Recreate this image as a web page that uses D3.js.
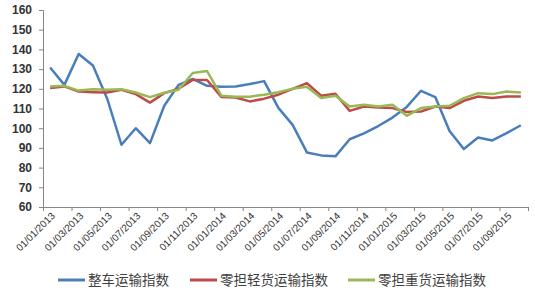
<!DOCTYPE html>
<html>
<head>
<meta charset="utf-8">
<script src="https://cdn.jsdelivr.net/npm/d3@7"></script>
<style>
  html, body { margin: 0; padding: 0; background: #fff; }
  svg { display: block; }
</style>
</head>
<body>
<svg id="chart" width="535" height="296"></svg>
<script>
const categories = [
  "01/01/2013","01/02/2013","01/03/2013","01/04/2013","01/05/2013","01/06/2013",
  "01/07/2013","01/08/2013","01/09/2013","01/10/2013","01/11/2013","01/12/2013",
  "01/01/2014","01/02/2014","01/03/2014","01/04/2014","01/05/2014","01/06/2014",
  "01/07/2014","01/08/2014","01/09/2014","01/10/2014","01/11/2014","01/12/2014",
  "01/01/2015","01/02/2015","01/03/2015","01/04/2015","01/05/2015","01/06/2015",
  "01/07/2015","01/08/2015","01/09/2015","01/10/2015"
];
const seriesNames = ["整车运输指数", "零担轻货运输指数", "零担重货运输指数"];
const seriesColors = ["#4A7EBB", "#BE4B48", "#98B954"];
const wholeTruck = [130.8,122,137.7,131.8,115,91.6,100,92.4,111.4,122,125,121.5,
  121,121.2,122.4,123.9,110.3,101.7,87.7,86.2,85.7,94.4,97.4,101.1,
  105.4,110.8,119,115.8,98.6,89.4,95.3,93.8,97.5,101.5];
const lightLTL = [120.4,121.2,118.6,118.3,118.1,119.5,117.3,113,117.8,120,124.5,124.5,
  115.8,115.6,113.6,115,117,120,122.9,116.5,117.5,108.8,111,110.5,
  110.2,108.2,108.5,111,110.2,113.9,116.1,115.3,116.1,116.1];
const heavyLTL = [121.2,121.5,119.1,119.8,119.5,119.8,118.1,115.8,118,119.5,128,129,
  116.5,116,116,117,118.3,120,121,115.3,116.5,111,111.9,111,
  111.9,106.3,110.2,111,111.4,115.3,117.8,117.3,118.6,118.1];
const yTicks = [60,70,80,90,100,110,120,130,140,150,160];
const xTickLabels = categories.filter((d, i) => i % 2 === 0);

const allSeries = [wholeTruck, lightLTL, heavyLTL];

const svg = d3.select("#chart");
const plotLeft = 43, plotRight = 528, plotTop = 10, plotBottom = 207;

const x = d3.scaleLinear().domain([0, categories.length]).range([plotLeft, plotRight]);
const y = d3.scaleLinear().domain([60, 160]).range([plotBottom, plotTop]);

// Y axis
const yAxis = svg.append("g")
  .attr("transform", `translate(${plotLeft},0)`)
  .call(d3.axisLeft(y).tickValues(yTicks).tickSize(4).tickPadding(7));
yAxis.select(".domain").attr("stroke", "#868686");
yAxis.selectAll(".tick line").attr("stroke", "#868686");
yAxis.selectAll(".tick text")
  .attr("font-family", "Liberation Sans, Arial, sans-serif")
  .attr("font-size", 12).attr("font-weight", "bold")
  .attr("fill", "#333");

// X axis (ticks at category boundaries every 2 months)
const tickIdx = d3.range(0, categories.length + 1, 2);
const xAxis = svg.append("g")
  .attr("transform", `translate(0,${plotBottom})`)
  .call(d3.axisBottom(x).tickValues(tickIdx).tickSize(4).tickFormat(""));
xAxis.select(".domain").attr("stroke", "#868686");
xAxis.selectAll(".tick line").attr("stroke", "#868686");

// X labels rotated
svg.append("g").selectAll("text")
  .data(xTickLabels)
  .join("text")
  .attr("transform", (d, i) => `translate(${x(i * 2 + 0.5) + 3},${plotBottom + 7}) rotate(-45)`)
  .attr("text-anchor", "end")
  .attr("dy", "0.35em")
  .attr("font-family", "Liberation Sans, Arial, sans-serif")
  .attr("font-size", 10)
  .attr("fill", "#333")
  .text(d => d);

// Lines
const line = d3.line().x((d, i) => x(i + 0.5)).y(d => y(d));
svg.append("g").selectAll("path")
  .data(allSeries)
  .join("path")
  .attr("fill", "none")
  .attr("stroke", (d, i) => seriesColors[i])
  .attr("stroke-width", 2.5)
  .attr("stroke-linejoin", "round")
  .attr("d", line);

// Legend
const legendX = [58, 190, 348];
const lg = svg.append("g").selectAll("g")
  .data(seriesNames)
  .join("g")
  .attr("transform", (d, i) => `translate(${legendX[i]},280)`);
lg.append("line")
  .attr("x1", 0).attr("x2", 27).attr("y1", 0).attr("y2", 0)
  .attr("stroke", (d, i) => seriesColors[i]).attr("stroke-width", 3);
lg.append("text")
  .attr("x", 30).attr("dy", "0.36em")
  .attr("font-family", "Noto Sans CJK SC, sans-serif")
  .attr("font-size", 13.5)
  .attr("fill", "#404040")
  .text(d => d);
</script>
</body>
</html>
